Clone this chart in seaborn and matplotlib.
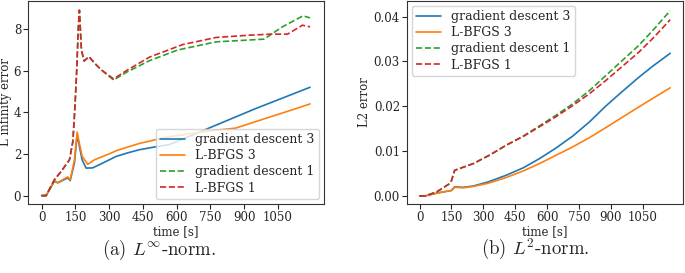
import numpy as np
import pandas as pd
import matplotlib
matplotlib.use("Agg")
import matplotlib.pyplot as plt
import seaborn as sns

# ---- (a) L-infinity error ----
linf_gd3_t = [0, 20, 57, 72, 116, 127, 146, 158, 168, 180, 198, 227, 279, 331, 382, 434, 500, 567, 580, 945, 1193]
linf_gd3_v = [0, 0, 0.69, 0.61, 0.85, 0.72, 1.56, 2.92, 2.36, 1.72, 1.32, 1.33, 1.6, 1.88, 2.05, 2.2, 2.33, 2.45, 2.5, 4.15, 5.2]

linf_lb3_t = [0, 20, 57, 72, 116, 127, 146, 158, 168, 180, 205, 235, 300, 331, 382, 434, 552, 650, 729, 862, 1100, 1193]
linf_lb3_v = [0, 0, 0.72, 0.62, 0.9, 0.76, 1.7, 3.05, 2.5, 1.9, 1.5, 1.72, 2.0, 2.15, 2.33, 2.5, 2.8, 2.95, 3.08, 3.24, 4.07, 4.4]

linf_gd1_t = [0, 20, 57, 87, 124, 139, 148, 156, 163, 168, 177, 189, 211, 236, 266, 320, 377, 480, 605, 775, 989, 1070, 1162, 1193]
linf_gd1_v = [0, 0, 0.75, 1.16, 1.72, 2.6, 4.2, 6.0, 8.0, 8.9, 6.99, 6.46, 6.67, 6.35, 6.03, 5.55, 5.92, 6.48, 6.99, 7.38, 7.51, 8.1, 8.63, 8.53]

linf_lb1_t = [0, 20, 57, 87, 124, 139, 148, 156, 163, 168, 177, 189, 211, 236, 266, 320, 377, 480, 627, 775, 923, 1019, 1093, 1159, 1193]
linf_lb1_v = [0, 0, 0.77, 1.16, 1.72, 2.6, 4.2, 6.0, 8.0, 8.9, 6.99, 6.46, 6.67, 6.35, 6.03, 5.6, 6.0, 6.65, 7.25, 7.59, 7.7, 7.75, 7.75, 8.18, 8.1]

# ---- (b) L2 error ----
l2_gd3_t = [0, 27, 80, 137, 150, 164, 206, 253, 322, 408, 490, 564, 640, 720, 800, 876, 950, 1031, 1100, 1180]
l2_gd3_v = [0, 0, 0.0006, 0.0011, 0.0012, 0.002, 0.0019, 0.0022, 0.0031, 0.0046, 0.0063, 0.0083, 0.0106, 0.0133, 0.0165, 0.0200, 0.0231, 0.0264, 0.0290, 0.0318]

l2_lb3_t = [0, 27, 80, 137, 150, 164, 206, 253, 322, 408, 490, 564, 640, 720, 800, 876, 950, 1031, 1100, 1180]
l2_lb3_v = [0, 0, 0.0006, 0.0011, 0.0012, 0.0019, 0.0018, 0.0021, 0.0028, 0.0041, 0.0056, 0.0072, 0.0090, 0.0109, 0.0130, 0.0152, 0.0174, 0.0198, 0.0218, 0.0241]

l2_gd1_t = [0, 27, 81, 137, 150, 165, 253, 330, 408, 490, 564, 640, 720, 800, 876, 950, 1031, 1100, 1180]
l2_gd1_v = [0, 0, 0.0009, 0.0026, 0.0034, 0.0057, 0.0072, 0.0091, 0.0113, 0.0134, 0.0156, 0.0179, 0.0205, 0.0235, 0.0268, 0.0300, 0.0335, 0.0370, 0.0413]

l2_lb1_t = [0, 27, 81, 137, 150, 165, 253, 330, 408, 490, 564, 640, 720, 800, 876, 950, 1031, 1100, 1180]
l2_lb1_v = [0, 0, 0.0009, 0.0026, 0.0034, 0.0057, 0.0072, 0.0091, 0.0113, 0.0133, 0.0154, 0.0176, 0.0201, 0.0228, 0.0257, 0.0287, 0.0320, 0.0352, 0.0393]

labels = ["gradient descent 3", "L-BFGS 3", "gradient descent 1", "L-BFGS 1"]
colors = ["#1f77b4", "#ff7f0e", "#2ca02c", "#d62728"]
dashes = ["-", "-", "--", "--"]
xticks = [0, 150, 300, 450, 600, 750, 900, 1050]

sns.set_style("ticks")
plt.rcParams["font.family"] = ["DejaVu Serif"]
plt.rcParams["mathtext.fontset"] = "cm"
plt.rcParams["axes.edgecolor"] = "#333333"

fig = plt.figure(figsize=(6.85, 2.73), dpi=100)
ax1 = fig.add_axes([0.041, 0.253, 0.432, 0.744])
ax2 = fig.add_axes([0.594, 0.253, 0.403, 0.744])

linf = [(linf_gd3_t, linf_gd3_v), (linf_lb3_t, linf_lb3_v),
        (linf_gd1_t, linf_gd1_v), (linf_lb1_t, linf_lb1_v)]
l2 = [(l2_gd3_t, l2_gd3_v), (l2_lb3_t, l2_lb3_v),
      (l2_gd1_t, l2_gd1_v), (l2_lb1_t, l2_lb1_v)]

for ax, series in [(ax1, linf), (ax2, l2)]:
    for (t, v), lab, c, ls in zip(series, labels, colors, dashes):
        df = pd.DataFrame({"t": t, "v": v})
        sns.lineplot(data=df, x="t", y="v", ax=ax, color=c, linestyle=ls,
                     linewidth=1.2, label=lab, sort=False)
    ax.set_xticks(xticks)
    ax.set_xlabel("time [s]", fontsize=8.5, labelpad=1)
    ax.tick_params(labelsize=8.5, length=3.5, width=0.8, pad=1.5)

ax1.set_xlim(-60, 1255)
ax1.set_ylim(-0.4, 9.35)
ax1.set_yticks([0, 2, 4, 6, 8])
ax1.set_ylabel("L infinity error", fontsize=8.5, labelpad=1)
ax1.legend(loc="lower right", fontsize=9, labelspacing=0.25,
           handlelength=2.0, borderpad=0.35, borderaxespad=0.4)

ax2.set_xlim(-60, 1240)
ax2.set_ylim(-0.0018, 0.0435)
ax2.set_yticks([0, 0.01, 0.02, 0.03, 0.04])
ax2.yaxis.set_major_formatter(matplotlib.ticker.FormatStrFormatter("%.2f"))
ax2.set_ylabel("L2 error", fontsize=8.5, labelpad=2)
ax2.legend(loc="upper left", fontsize=9, labelspacing=0.25,
           handlelength=2.0, borderpad=0.35, borderaxespad=0.4)

fig.text(0.232, 0.085, r"(a) $L^{\infty}$-norm.", ha="center", va="center",
         fontsize=13.5, family="cmr10")
fig.text(0.781, 0.085, r"(b) $L^{2}$-norm.", ha="center", va="center",
         fontsize=13.5, family="cmr10")

fig.savefig("out.png", dpi=100)
